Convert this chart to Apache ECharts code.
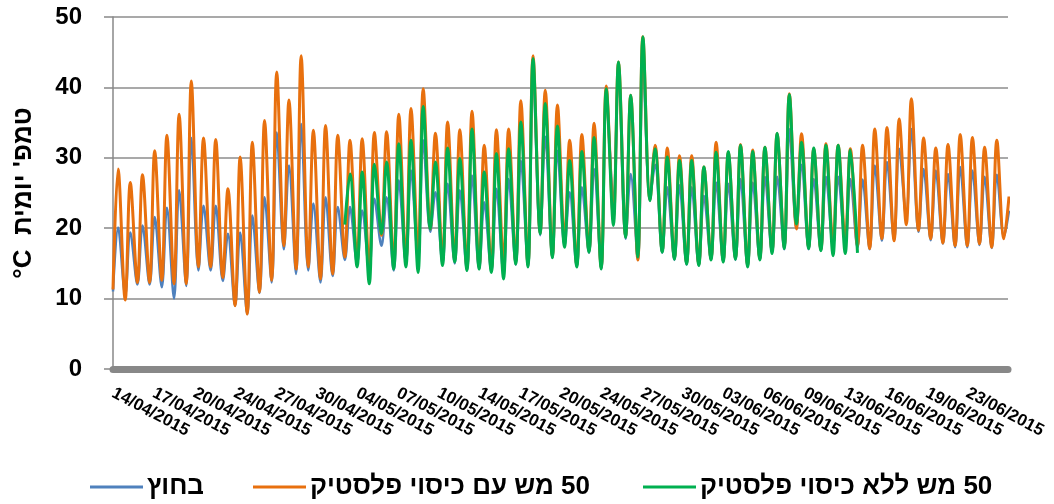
<!DOCTYPE html>
<html><head><meta charset="utf-8">
<script src="https://cdn.jsdelivr.net/npm/echarts@6/dist/echarts.min.js"></script>
<style>html,body{margin:0;padding:0;background:#fff}#c{width:1054px;height:504px}</style>
</head><body><div id="c"></div><script>
// x-axis tick labels (one every 80 hours of readings)
const tickLabels = ['14/04/2015','17/04/2015','20/04/2015','24/04/2015','27/04/2015','30/04/2015','04/05/2015','07/05/2015','10/05/2015','14/05/2015','17/05/2015','20/05/2015','24/05/2015','27/05/2015','30/05/2015','03/06/2015','06/06/2015','09/06/2015','13/06/2015','16/06/2015','19/06/2015','23/06/2015'];
const seriesNames = ['בחוץ', '50 מש עם כיסוי פלסטיק', '50 מש ללא כיסוי פלסטיק'];
const hoursPerDay = 24, lowHour = 0, highHour = 10;

// outside (blue): daily low (before the day's peak) and daily high
const outsideLo = [11.0,10.5,12.0,12.0,11.6,10.0,11.8,14.0,14.0,12.5, 9.0,7.8,10.8,12.3,17.0,13.5,14.0,12.3,13.2,15.5, 15.0,14.0,17.5,14.0,15.0,15.5,19.5,15.0,15.0,14.0, 14.2,13.8,13.5,14.8,14.5,19.0,15.8,17.5,14.5,16.5, 14.2,24.0,18.5,15.5,24.5,16.5,15.5,14.8,14.7,15.5, 15.2,15.5,14.5,15.5,16.5,17.0,20.0,17.0,16.8,17.5, 17.8,17.2,17.0,18.2,18.3,21.5,19.5,18.3,17.8,17.3, 17.3,17.6,17.2,18.8];
const outsideHi = [20.1,19.4,20.4,21.6,22.9,25.4,32.8,23.2,23.2,19.2, 19.4,21.8,24.4,33.6,28.9,34.8,23.5,24.4,23.0,23.0, 22.5,24.2,24.4,26.8,28.2,32.5,25.1,26.3,25.4,27.5, 23.7,25.6,27.0,29.6,42.0,33.0,31.0,25.1,25.8,28.4, 38.6,42.5,27.7,43.8,29.0,25.8,26.1,25.8,24.6,26.5, 26.3,27.0,26.5,27.3,27.3,34.1,29.0,27.0,27.3,27.3, 27.0,26.9,28.9,29.4,31.3,34.1,28.4,28.2,27.7,28.7, 28.2,27.3,27.6,22.5];
// 50 mesh with plastic cover (orange)
const coverLo = [11.3,9.8,12.3,12.3,12.6,12.1,12.1,14.5,14.5,13.0, 9.0,7.8,10.9,12.6,17.5,14.2,14.5,12.8,13.5,15.9, 15.4,14.2,19.0,14.9,15.4,16.4,19.9,15.4,15.5,14.5, 14.6,14.2,15.0,15.2,14.8,19.3,16.0,18.2,14.8,16.8, 14.4,21.5,18.8,15.5,24.0,16.8,15.8,15.1,14.9,15.7, 15.4,15.8,14.8,15.7,16.8,17.4,19.9,17.3,17.0,17.8, 18.2,17.5,17.1,18.5,18.2,20.5,19.7,18.5,17.9,17.5, 17.5,17.8,17.3,18.5];
const coverHi = [28.4,26.5,27.6,31.0,33.2,36.2,40.9,32.8,32.6,25.6, 30.1,32.2,35.3,42.2,38.2,44.5,33.9,34.6,33.2,32.5, 32.7,33.6,33.7,36.2,37.0,39.8,33.5,35.1,34.0,36.6, 31.8,34.0,34.1,38.1,44.5,39.6,37.5,32.5,33.3,34.9, 40.2,43.6,38.9,47.2,31.8,31.4,30.3,30.3,28.7,32.2, 30.8,31.9,31.1,31.5,33.4,39.1,33.4,31.3,32.0,31.8, 31.3,31.8,34.1,34.3,35.5,38.4,32.8,31.4,31.9,33.3, 32.9,31.5,32.5,24.5];
// 50 mesh without plastic cover (green), recorded from day 19 to day 61
const netStartDay = 19;
const netLo = [20.5,14.5,12.1,19.2,14.2,14.5,13.7,19.9,14.7,15.2, 14.0,14.2,13.7,12.8,14.9,14.5,19.2,15.8,17.3,14.5, 16.6,14.2,20.4,18.7,15.9,23.9,16.6,15.6,14.9,14.7, 15.5,15.2,15.6,14.5,15.5,16.4,17.1,20.6,17.1,16.8, 16.1,16.4,16.5];
const netHi = [27.7,28.0,29.1,29.4,32.0,32.5,37.3,29.4,31.4,29.9, 34.1,28.0,30.6,31.3,35.1,44.1,37.7,34.5,29.6,30.9, 32.9,39.8,43.6,38.9,47.2,31.3,30.1,29.6,29.6,28.7, 30.8,30.9,31.8,30.9,31.5,33.5,39.0,32.2,31.4,31.8, 31.8,31.1];

function build(lo, hi, startDay) {
  const out = [];
  for (let k = 0; k < lo.length; k++) {
    const d = startDay + k;
    out.push([d * hoursPerDay + lowHour, lo[k]]);
    if (k < hi.length) out.push([d * hoursPerDay + highHour, hi[k]]);
  }
  return out;
}
// right-to-left embedding so the Hebrew legend text reads as in the original
const rtl = s => '\u202B' + s + '\u202C';
const names = seriesNames.map(rtl);

const FONT = "'Liberation Sans', Arial, 'DejaVu Sans', sans-serif";
const colors = ['#4F81BD', '#E8700E', '#00B050'];
const chart = echarts.init(document.getElementById('c'), null, {renderer: 'canvas'});
const legendLefts = [90, 253, 643];
chart.setOption({
  animation: false,
  backgroundColor: '#fff',
  grid: {left: 113, right: 46, top: 17, bottom: 135, containLabel: false, outerBoundsMode: 'none'},
  legend: names.map((n, i) => ({
    data: [n], left: legendLefts[i], top: 474, padding: 0, icon: 'rect', itemWidth: 53, itemHeight: 3, itemGap: 0,
    textStyle: {fontFamily: FONT, fontWeight: 'bold', fontSize: 26, color: '#000', padding: [0, 0, 0, -1]}
  })),
  xAxis: {
    type: 'value', min: 0, max: 1760, interval: 80, offset: 3,
    axisLine: {show: true, lineStyle: {color: '#888', width: 7}},
    axisTick: {show: false}, splitLine: {show: false},
    axisLabel: {
      rotate: -28, margin: 20, showMaxLabel: false,
      fontFamily: FONT, fontWeight: 'bold', fontSize: 17, color: '#000',
      formatter: v => tickLabels[Math.round(v / 80)] || ''
    }
  },
  yAxis: {
    type: 'value', min: 0, max: 50, interval: 10,
    name: "°C  טמפ' יומית", nameLocation: 'middle', nameGap: 76, nameRotate: 90,
    nameTextStyle: {fontFamily: FONT, fontWeight: 'bold', fontSize: 26, color: '#000'},
    axisLine: {show: true, lineStyle: {color: '#888', width: 1.5}},
    axisTick: {show: true, length: 9, lineStyle: {color: '#888', width: 1.5}},
    splitLine: {lineStyle: {color: '#8c8c8c', width: 1.5}},
    axisLabel: {margin: 31, fontFamily: FONT, fontWeight: 'bold', fontSize: 24, color: '#000'}
  },
  series: [
    {name: names[0], type: 'line', data: build(outsideLo, outsideHi, 0), symbol: 'none', smooth: 0.35,
     lineStyle: {color: colors[0], width: 2.5}, itemStyle: {color: colors[0]}},
    {name: names[1], type: 'line', data: build(coverLo, coverHi, 0), symbol: 'none', smooth: 0.35,
     lineStyle: {color: colors[1], width: 3}, itemStyle: {color: colors[1]}},
    {name: names[2], type: 'line', data: build(netLo, netHi, netStartDay), symbol: 'none', smooth: 0.35,
     lineStyle: {color: colors[2], width: 3}, itemStyle: {color: colors[2]}}
  ]
});
</script></body></html>
